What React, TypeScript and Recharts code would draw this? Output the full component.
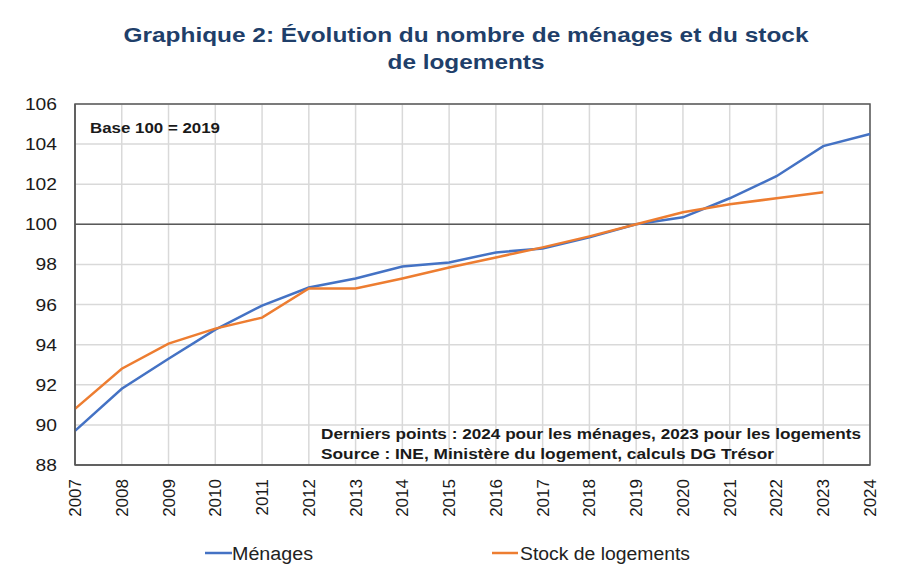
import React from "react";
import {
  LineChart,
  Line,
  XAxis,
  YAxis,
  CartesianGrid,
  ReferenceLine,
  ReferenceArea,
  Legend,
} from "recharts";

// Années
const years = [
  "2007", "2008", "2009", "2010", "2011", "2012", "2013", "2014", "2015",
  "2016", "2017", "2018", "2019", "2020", "2021", "2022", "2023", "2024",
];

// Base 100 = 2019
const menages = [
  89.7, 91.8, 93.3, 94.75, 95.95, 96.85, 97.3, 97.9, 98.1,
  98.6, 98.8, 99.35, 100.0, 100.35, 101.3, 102.4, 103.9, 104.5,
];

const logements = [
  90.8, 92.8, 94.05, 94.8, 95.35, 96.8, 96.8, 97.3, 97.85,
  98.35, 98.85, 99.4, 100.0, 100.6, 101.0, 101.3, 101.6, null,
];

const yTicks = [88, 90, 92, 94, 96, 98, 100, 102, 104, 106];

const data = years.map((year, i) => ({
  year,
  menages: menages[i],
  logements: logements[i],
}));

const FONT = "'Liberation Sans', Arial, sans-serif";

const YearTick = (props: any) => {
  const { x, y, payload } = props;
  return (
    <text
      x={x}
      y={y}
      transform={`rotate(-90 ${x} ${y})`}
      dx={-6}
      dy={6}
      textAnchor="end"
      fontSize={17}
      fontFamily={FONT}
      fill="#1a1a1a"
    >
      {payload.value}
    </text>
  );
};

const ValueTick = (props: any) => {
  const { x, y, payload } = props;
  const s = String(payload.value);
  return (
    <text
      x={x}
      y={y}
      dy={6}
      textAnchor="end"
      fontSize={17}
      fontFamily={FONT}
      fill="#1a1a1a"
      textLength={s.length * 10.7}
      lengthAdjust="spacingAndGlyphs"
    >
      {s}
    </text>
  );
};

const LegendContent = () => (
  <svg width={913} height={40} style={{ display: "block" }}>
    <line x1={205} x2={232} y1={28} y2={28} stroke="#4472C4" strokeWidth={2.5} />
    <text x={232} y={35} fontSize={18} fontFamily={FONT} fill="#222" textLength={81} lengthAdjust="spacingAndGlyphs">
      Ménages
    </text>
    <line x1={492} x2={518} y1={28} y2={28} stroke="#ED7D31" strokeWidth={2.5} />
    <text x={520} y={35} fontSize={18} fontFamily={FONT} fill="#222" textLength={170} lengthAdjust="spacingAndGlyphs">
      Stock de logements
    </text>
  </svg>
);

const noteStyle = {
  fontSize: 15.5,
  fontWeight: "bold" as const,
  fontFamily: FONT,
  fill: "#1a1a1a",
  lengthAdjust: "spacingAndGlyphs",
};

export default function App() {
  return (
    <div style={{ position: "absolute", left: 0, top: 0, width: 913, height: 570, background: "#fff" }}>
      <LineChart
        width={913}
        height={570}
        data={data}
        margin={{ top: 104, right: 43, left: 0, bottom: 5 }}
      >
        <text
          x={466}
          y={42}
          textAnchor="middle"
          fontSize={21}
          fontWeight="bold"
          fontFamily={FONT}
          fill="#1F3F6A"
          textLength={685}
          lengthAdjust="spacingAndGlyphs"
        >
          Graphique 2: Évolution du nombre de ménages et du stock
        </text>
        <text
          x={466}
          y={69}
          textAnchor="middle"
          fontSize={21}
          fontWeight="bold"
          fontFamily={FONT}
          fill="#1F3F6A"
          textLength={157}
          lengthAdjust="spacingAndGlyphs"
        >
          de logements
        </text>
        <CartesianGrid stroke="#d9d9d9" strokeWidth={1.5} />
        <XAxis
          dataKey="year"
          height={60}
          tick={<YearTick />}
          tickLine={false}
          axisLine={{ stroke: "#595959", strokeWidth: 1.5 }}
          interval={0}
        />
        <YAxis
          width={75}
          domain={[88, 106]}
          ticks={yTicks}
          tickLine={false}
          tickSize={0}
          tickMargin={18}
          axisLine={{ stroke: "#595959", strokeWidth: 1.5 }}
          tick={<ValueTick />}
        />
        <ReferenceArea
          x1="2007"
          x2="2024"
          y1={88}
          y2={106}
          fill="none"
          stroke="#595959"
          strokeWidth={1.5}
        />
        <ReferenceLine y={100} stroke="#595959" strokeWidth={1.5} />
        <Line
          type="linear"
          dataKey="menages"
          name="Ménages"
          stroke="#4472C4"
          strokeWidth={2.5}
          dot={false}
          isAnimationActive={false}
        />
        <Line
          type="linear"
          dataKey="logements"
          name="Stock de logements"
          stroke="#ED7D31"
          strokeWidth={2.5}
          dot={false}
          isAnimationActive={false}
        />
        <Legend verticalAlign="bottom" height={40} content={<LegendContent />} />
        <text x={90} y={133} {...noteStyle} textLength={130}>
          Base 100 = 2019
        </text>
        <text x={321} y={439} {...noteStyle} textLength={540}>
          Derniers points : 2024 pour les ménages, 2023 pour les logements
        </text>
        <text x={321} y={459} {...noteStyle} textLength={453}>
          Source : INE, Ministère du logement, calculs DG Trésor
        </text>
      </LineChart>
    </div>
  );
}
